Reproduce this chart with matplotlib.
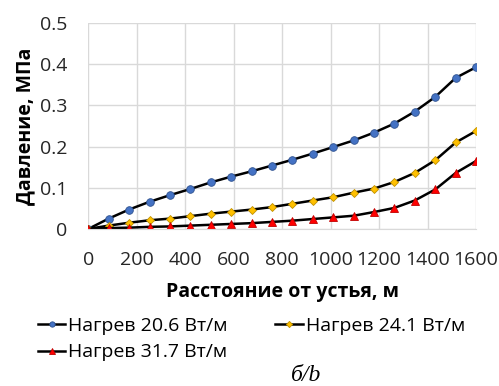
import numpy as np
import matplotlib
matplotlib.use("Agg")
import matplotlib.pyplot as plt

plt.rcParams['font.family'] = ['Open Sans', 'DejaVu Sans']

# distance from wellhead, m (20 points, 0..1600)
dist = [0, 84, 168, 253, 337, 421, 505, 589, 674, 758,
        842, 926, 1011, 1095, 1179, 1263, 1347, 1432, 1516, 1600]

p_206 = [0, 0.025, 0.047, 0.066, 0.082, 0.097, 0.113, 0.127, 0.140, 0.154,
         0.168, 0.183, 0.199, 0.215, 0.234, 0.256, 0.285, 0.321, 0.367, 0.393]
p_241 = [0, 0.008, 0.015, 0.021, 0.025, 0.031, 0.037, 0.042, 0.047, 0.053,
         0.061, 0.069, 0.077, 0.088, 0.098, 0.114, 0.136, 0.167, 0.210, 0.238]
p_317 = [0, 0.002, 0.003, 0.005, 0.006, 0.008, 0.010, 0.012, 0.014, 0.017,
         0.020, 0.024, 0.028, 0.032, 0.041, 0.051, 0.069, 0.096, 0.136, 0.165]

labels = ['Нагрев 20.6 Вт/м', 'Нагрев 24.1 Вт/м', 'Нагрев 31.7 Вт/м']
xticks = [0, 200, 400, 600, 800, 1000, 1200, 1400, 1600]
yticks = [0, 0.1, 0.2, 0.3, 0.4, 0.5]

fig = plt.figure(figsize=(4.99, 3.86), dpi=100)
ax = fig.add_axes([0.177, 0.407, 0.777, 0.533])

l1, = ax.plot(dist, p_206, color='black', lw=1.8, marker='o', ms=5.5,
              mfc='#4472C4', mec='#2F528F', mew=0.6, label=labels[0])
l2, = ax.plot(dist, p_241, color='black', lw=1.8, marker='D', ms=4.5,
              mfc='#FFC000', mec='#BF9000', mew=0.6, label=labels[1])
l3, = ax.plot(dist, p_317, color='black', lw=1.8, marker='^', ms=5.5,
              mfc='#FF0000', mec='#C00000', mew=0.6, label=labels[2])

ax.set_xlim(0, 1600)
ax.set_ylim(0, 0.5)
ax.set_xticks(xticks)
ax.set_yticks(yticks)
ax.set_yticklabels(['0', '0.1', '0.2', '0.3', '0.4', '0.5'])
ax.tick_params(length=0, labelsize=14, colors='#262626')
ax.tick_params(axis='x', pad=16)
ax.tick_params(axis='y', pad=15)
ax.grid(True, color='#D9D9D9', lw=1)
ax.set_axisbelow(True)
for s in ['top', 'right', 'left']:
    ax.spines[s].set_visible(False)
ax.spines['bottom'].set_color('#D9D9D9')

ax.set_xlabel('Расстояние от устья, м', fontsize=14, fontweight='bold', labelpad=9)
ax.set_ylabel('Давление, МПа', fontsize=14, fontweight='bold', labelpad=3)

# row-major order in two columns
fig.legend([l1, l3, l2], [labels[0], labels[2], labels[1]], ncol=2,
           loc='upper left', bbox_to_anchor=(0.057, 0.205), frameon=False,
           fontsize=14, handlelength=1.4, handletextpad=0.15,
           columnspacing=2.45, labelspacing=0.45, borderpad=0,
           markerscale=0.7)

fig.text(0.613, 0.028, 'б/b', fontsize=17, style='italic',
         family='Liberation Serif', ha='center', va='center')

fig.savefig('out.png', dpi=100)
